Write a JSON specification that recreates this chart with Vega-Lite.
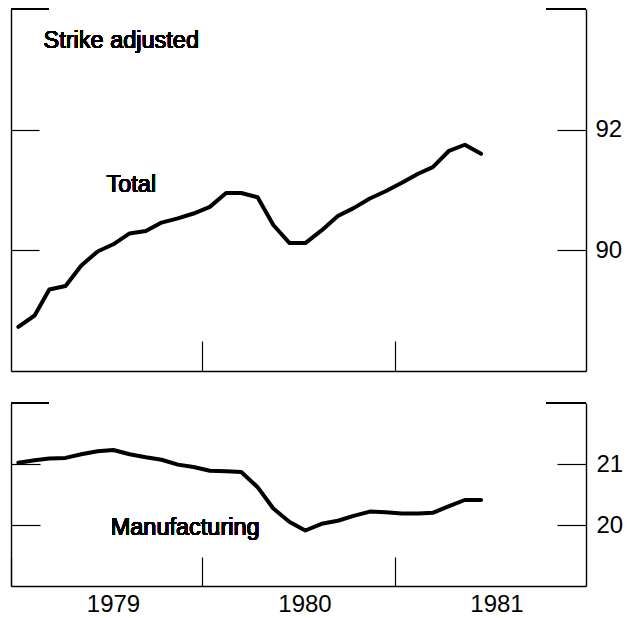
{
  "$schema": "https://vega.github.io/schema/vega-lite/v6.json",
  "padding": {"left": 10, "top": 8, "right": 5, "bottom": 2},
  "background": "white",
  "spacing": 30,
  "config": {
    "view": {"stroke": null},
    "font": "Liberation Sans",
    "axis": {
      "minExtent": 0,
      "grid": false,
      "domainColor": "black",
      "domainWidth": 1.4,
      "tickColor": "black",
      "tickWidth": 1.2,
      "labelFont": "Liberation Sans",
      "labelFontSize": 24,
      "labelColor": "black"
    }
  },
  "datasets": {
    "series": [
      {"date": "1979-01-15", "total": 88.73, "manufacturing": 21.02},
      {"date": "1979-02-15", "total": 88.92, "manufacturing": 21.06},
      {"date": "1979-03-15", "total": 89.35, "manufacturing": 21.09},
      {"date": "1979-04-15", "total": 89.41, "manufacturing": 21.10},
      {"date": "1979-05-15", "total": 89.75, "manufacturing": 21.16},
      {"date": "1979-06-15", "total": 89.98, "manufacturing": 21.21},
      {"date": "1979-07-15", "total": 90.10, "manufacturing": 21.23},
      {"date": "1979-08-15", "total": 90.28, "manufacturing": 21.16},
      {"date": "1979-09-15", "total": 90.32, "manufacturing": 21.11},
      {"date": "1979-10-15", "total": 90.46, "manufacturing": 21.07},
      {"date": "1979-11-15", "total": 90.53, "manufacturing": 20.99},
      {"date": "1979-12-15", "total": 90.61, "manufacturing": 20.95},
      {"date": "1980-01-15", "total": 90.72, "manufacturing": 20.89},
      {"date": "1980-02-15", "total": 90.95, "manufacturing": 20.88},
      {"date": "1980-03-15", "total": 90.95, "manufacturing": 20.87},
      {"date": "1980-04-15", "total": 90.88, "manufacturing": 20.62},
      {"date": "1980-05-15", "total": 90.42, "manufacturing": 20.27},
      {"date": "1980-06-15", "total": 90.12, "manufacturing": 20.05},
      {"date": "1980-07-15", "total": 90.12, "manufacturing": 19.91},
      {"date": "1980-08-15", "total": 90.33, "manufacturing": 20.02},
      {"date": "1980-09-15", "total": 90.57, "manufacturing": 20.07},
      {"date": "1980-10-15", "total": 90.70, "manufacturing": 20.15},
      {"date": "1980-11-15", "total": 90.86, "manufacturing": 20.22},
      {"date": "1980-12-15", "total": 90.98, "manufacturing": 20.21},
      {"date": "1981-01-15", "total": 91.12, "manufacturing": 20.19},
      {"date": "1981-02-15", "total": 91.27, "manufacturing": 20.19},
      {"date": "1981-03-15", "total": 91.38, "manufacturing": 20.20},
      {"date": "1981-04-15", "total": 91.65, "manufacturing": 20.31},
      {"date": "1981-05-15", "total": 91.75, "manufacturing": 20.41},
      {"date": "1981-06-15", "total": 91.60, "manufacturing": 20.41}
    ]
  },
  "vconcat": [
    {
      "width": 575,
      "height": 362,
      "data": {"name": "series"},
      "resolve": {"axis": {"y": "independent"}},
      "layer": [
        {
          "mark": {"type": "line", "color": "black", "strokeWidth": 4, "strokeJoin": "round", "strokeCap": "round"},
          "encoding": {
            "x": {
              "field": "date", "type": "temporal", "title": null,
              "scale": {"type": "utc", "domain": [{"year": 1979, "month": 1, "date": 1, "utc": true}, {"year": 1982, "month": 1, "date": 1, "utc": true}]},
              "axis": {"orient": "bottom", "labels": false, "tickSize": -30, "values": [{"year": 1980, "month": 1, "date": 1, "utc": true}, {"year": 1981, "month": 1, "date": 1, "utc": true}]}
            },
            "y": {
              "field": "total", "type": "quantitative", "title": null,
              "scale": {"domain": [88, 94], "nice": false, "zero": false},
              "axis": {"orient": "left", "labels": false, "tickSize": -28, "values": [90, 92]}
            }
          }
        },
        {
          "mark": {"type": "rule", "color": "black", "strokeWidth": 1.4},
          "encoding": {
            "x": {"datum": {"year": 1981, "month": 10, "date": 17, "utc": true}, "type": "temporal", "title": null},
            "x2": {"datum": {"year": 1982, "month": 1, "date": 1, "utc": true}},
            "y": {"datum": 94, "type": "quantitative", "title": null,
                  "axis": {"orient": "right", "tickSize": -29, "labelPadding": 38, "values": [90, 92]}}
          }
        },
        {
          "mark": {"type": "rule", "color": "black", "strokeWidth": 1.4},
          "encoding": {
            "x": {"datum": {"year": 1979, "month": 1, "date": 1, "utc": true}, "type": "temporal", "title": null},
            "x2": {"datum": {"year": 1979, "month": 3, "date": 14, "utc": true}},
            "y": {"datum": 94, "type": "quantitative", "title": null, "axis": null}
          }
        },
        {
          "mark": {"type": "text", "text": "Strike adjusted", "fontSize": 23.5, "align": "left", "baseline": "alphabetic", "color": "black"},
          "encoding": {
            "x": {"datum": {"year": 1979, "month": 3, "date": 4, "utc": true}, "type": "temporal", "title": null},
            "y": {"datum": 93.35, "type": "quantitative", "title": null, "axis": null}
          }
        },
        {
          "mark": {"type": "text", "text": "Total", "fontSize": 23.5, "align": "left", "baseline": "alphabetic", "color": "black"},
          "encoding": {
            "x": {"datum": {"year": 1979, "month": 7, "date": 2, "utc": true}, "type": "temporal", "title": null},
            "y": {"datum": 90.97, "type": "quantitative", "title": null, "axis": null}
          }
        }
      ]
    },
    {
      "width": 575,
      "height": 183,
      "data": {"name": "series"},
      "resolve": {"axis": {"y": "independent"}},
      "layer": [
        {
          "mark": {"type": "line", "color": "black", "strokeWidth": 4, "strokeJoin": "round", "strokeCap": "round"},
          "encoding": {
            "x": {
              "field": "date", "type": "temporal", "title": null,
              "scale": {"type": "utc", "domain": [{"year": 1979, "month": 1, "date": 1, "utc": true}, {"year": 1982, "month": 1, "date": 1, "utc": true}]},
              "axis": {"orient": "bottom", "tickSize": -29, "labelPadding": 35, "labelOffset": 102, "format": "%Y", "formatType": "utc", "labelAlign": "center",
                       "values": [{"year": 1979, "month": 1, "date": 1, "utc": true}, {"year": 1980, "month": 1, "date": 1, "utc": true}, {"year": 1981, "month": 1, "date": 1, "utc": true}]}
            },
            "y": {
              "field": "manufacturing", "type": "quantitative", "title": null,
              "scale": {"domain": [19, 22], "nice": false, "zero": false},
              "axis": {"orient": "left", "labels": false, "tickSize": -29, "values": [20, 21]}
            }
          }
        },
        {
          "mark": {"type": "rule", "color": "black", "strokeWidth": 1.4},
          "encoding": {
            "x": {"datum": {"year": 1981, "month": 10, "date": 17, "utc": true}, "type": "temporal", "title": null},
            "x2": {"datum": {"year": 1982, "month": 1, "date": 1, "utc": true}},
            "y": {"datum": 22, "type": "quantitative", "title": null,
                  "axis": {"orient": "right", "tickSize": -29, "labelPadding": 39, "values": [20, 21]}}
          }
        },
        {
          "mark": {"type": "rule", "color": "black", "strokeWidth": 1.4},
          "encoding": {
            "x": {"datum": {"year": 1979, "month": 1, "date": 1, "utc": true}, "type": "temporal", "title": null},
            "x2": {"datum": {"year": 1979, "month": 3, "date": 14, "utc": true}},
            "y": {"datum": 22, "type": "quantitative", "title": null, "axis": null}
          }
        },
        {
          "mark": {"type": "text", "text": "Manufacturing", "fontSize": 23.5, "align": "left", "baseline": "alphabetic", "color": "black"},
          "encoding": {
            "x": {"datum": {"year": 1979, "month": 7, "date": 10, "utc": true}, "type": "temporal", "title": null},
            "y": {"datum": 19.84, "type": "quantitative", "title": null, "axis": null}
          }
        }
      ]
    }
  ]
}
